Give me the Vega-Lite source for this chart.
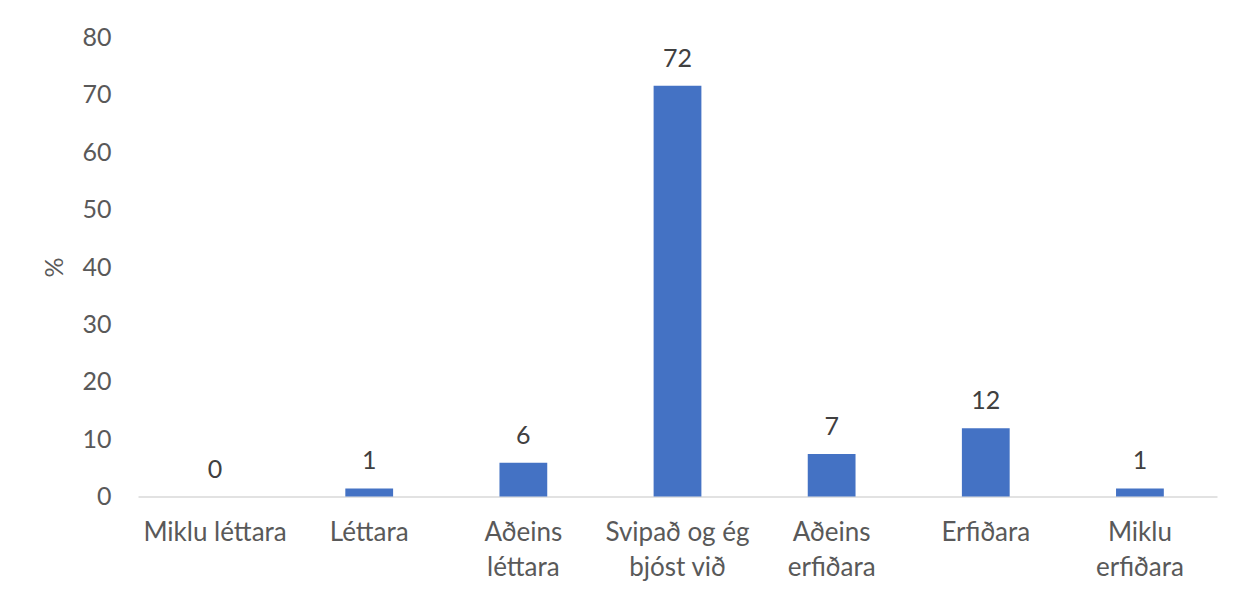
{
  "$schema": "https://vega.github.io/schema/vega-lite/v6.json",
  "autosize": "none",
  "width": 1079,
  "height": 459,
  "padding": {"left": 138, "top": 37.5, "right": 28, "bottom": 97.5},
  "background": "white",
  "config": {"view": {"stroke": null}, "font": "Lato"},
  "data": {
    "values": [
      {"cat": "Miklu léttara", "value": 0},
      {"cat": "Léttara", "value": 1.4},
      {"cat": "Aðeins|léttara", "value": 5.9},
      {"cat": "Svipað og ég|bjóst við", "value": 71.6},
      {"cat": "Aðeins|erfiðara", "value": 7.4},
      {"cat": "Erfiðara", "value": 11.9},
      {"cat": "Miklu|erfiðara", "value": 1.4}
    ]
  },
  "encoding": {
    "x": {
      "field": "cat",
      "type": "nominal",
      "sort": null,
      "scale": {"paddingInner": 0.69, "paddingOuter": 0.345},
      "axis": {
        "title": null,
        "labelAngle": 0,
        "labelExpr": "split(datum.label, '|')",
        "labelFontSize": 26,
        "labelColor": "#595959",
        "labelFont": "Lato",
        "labelPadding": 23,
        "labelLineHeight": 35,
        "labelBaseline": "top",
        "ticks": false,
        "domainColor": "#d9d9d9",
        "domainWidth": 1.5,
        "grid": false
      }
    },
    "y": {
      "field": "value",
      "type": "quantitative",
      "scale": {"domain": [0, 80], "nice": false},
      "axis": {
        "title": "%",
        "titleFontSize": 25,
        "titleFontWeight": "normal",
        "titleColor": "#595959",
        "titleFont": "Lato",
        "titlePadding": 14,
        "values": [0, 10, 20, 30, 40, 50, 60, 70, 80],
        "labelFontSize": 25,
        "labelColor": "#595959",
        "labelFont": "Lato",
        "labelPadding": 27,
        "ticks": false,
        "domain": false,
        "grid": false
      }
    }
  },
  "layer": [
    {"mark": {"type": "bar", "color": "#4472C4"}},
    {
      "mark": {"type": "text", "fontSize": 25, "color": "#404040", "baseline": "alphabetic", "dy": -19, "font": "Lato"},
      "encoding": {"text": {"field": "value", "type": "quantitative", "format": ".0f"}}
    }
  ]
}
